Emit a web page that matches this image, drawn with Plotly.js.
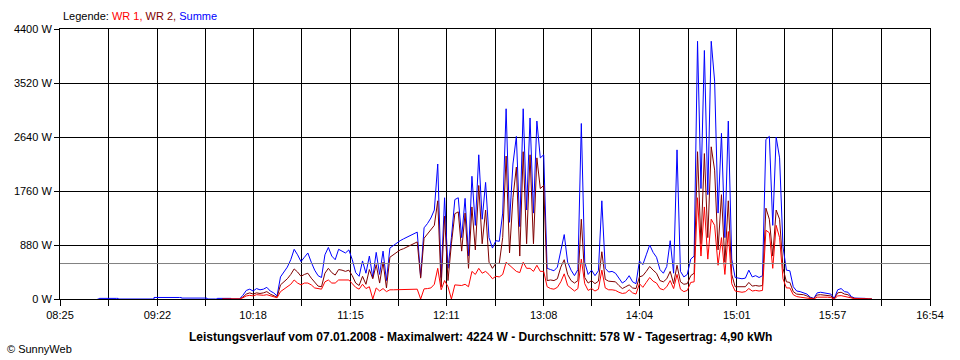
<!DOCTYPE html>
<html><head><meta charset="utf-8">
<script src="https://cdn.plot.ly/plotly-3.0.1.min.js"></script>
<style>html,body{margin:0;padding:0;background:#fff}#chart{width:960px;height:360px}</style>
</head><body><div id="chart"></div>
<script>
// ---- data ----
const tickLabels = ["08:25","09:22","10:18","11:15","12:11","13:08","14:04","15:01","15:57","16:54"];
const yTickValues = [0, 880, 1760, 2640, 3520, 4400];
const sampleStartMin = 600;   // 10:00
const sampleStepMin = 2;
const summe = [0,0,0,0,0,0,60,140,160,130,170,150,160,190,130,100,50,360,440,520,
640,810,720,610,680,750,600,470,380,350,720,840,700,640,810,780,750,800,640,430,
370,620,420,700,350,760,400,780,300,830,870,920,950,980,1010,1040,1060,1090,360,1160,
1230,1320,1450,2200,350,1650,500,1000,1620,1650,1000,1640,700,2000,1200,2350,1300,1900,1000,830,
950,940,1400,3100,1250,2200,2650,1180,3100,1450,2950,1400,2900,2300,2350,500,480,460,520,800,
1050,600,470,380,480,2860,600,400,470,380,460,1600,500,440,450,420,330,260,300,380,
280,250,620,560,720,880,760,680,480,420,530,950,420,2430,450,360,400,650,700,4200,
1800,4050,1700,4200,3550,1400,2700,1000,2900,650,350,340,330,340,470,360,380,350,380,2600,
2650,1200,2640,2300,850,470,460,200,130,120,100,80,30,10,100,110,100,95,80,10,
150,170,120,110,40,15,15,10,10,0,0];
const wr2 = [0,0,0,0,0,0,30,80,100,80,100,90,100,120,80,60,30,230,280,330,
400,490,440,370,400,420,340,270,210,200,420,500,430,390,480,470,450,470,380,260,
220,370,240,480,330,560,260,600,180,680,720,760,800,820,850,880,900,930,340,990,
1060,1140,1200,1600,200,1350,300,900,1390,1420,780,1400,500,1500,800,1850,900,1450,600,500,
580,580,1000,2330,750,1650,2150,700,2400,900,2350,900,2300,1800,1850,300,310,300,330,520,
640,400,300,260,300,1300,350,260,300,250,290,770,320,290,290,280,220,170,200,230,
180,170,360,380,450,530,470,420,300,280,330,450,250,550,280,240,250,380,420,2400,
900,2370,1000,2480,2100,800,1700,600,1600,400,200,200,190,200,270,210,220,210,220,1480,
1300,700,1450,1300,500,280,270,120,80,80,70,50,20,5,65,70,65,60,50,5,
100,110,80,70,25,10,10,5,5,0,0];
const wr1 = [0,0,0,0,0,0,20,50,60,50,70,60,60,70,50,40,20,120,160,190,
240,310,260,230,260,260,230,180,170,160,280,310,260,260,310,310,300,310,250,190,
160,240,170,200,0,180,130,170,120,150,150,150,150,155,155,160,160,160,0,165,
170,180,240,500,150,300,200,0,230,230,220,240,200,450,400,500,420,450,400,330,
370,360,400,600,550,500,450,430,600,500,500,450,550,450,450,200,170,160,190,280,
410,220,170,130,170,650,250,140,170,130,160,470,180,150,150,140,110,90,100,150,
100,80,250,190,270,350,290,260,170,150,200,300,170,400,160,120,140,270,280,1650,
700,1500,650,1300,1200,550,1000,400,1100,250,130,120,110,120,170,130,140,130,140,1120,
1080,500,1200,1000,330,180,180,70,40,30,20,20,10,0,30,35,30,30,25,0,
50,55,40,35,10,5,5,0,0,0,0];
const earlyMinutes = [527, 528, 538, 539, 559, 560, 575, 576, 590, 591, 596, 597, 604, 605];
const earlySumme   = [0, 10, 10, 0, 0, 25, 25, 15, 15, 0, 0, 10, 10, 0];
const averageW = 578;
const maxW = 4224;
const dailyYield = "4,90";
const dateText = "07.01.2008";

// ---- build ----
const toMin = s => { const p = s.split(":"); return (+p[0]) * 60 + (+p[1]); };
const labelMins = tickLabels.map(toMin);
const tickvals = [], ticktext = [];
labelMins.forEach((m, k) => {
  tickvals.push(m); ticktext.push(tickLabels[k]);
  if (k < labelMins.length - 1) { tickvals.push((m + labelMins[k + 1]) / 2); ticktext.push(""); }
});
const times = summe.map((_, i) => sampleStartMin + i * sampleStepMin);
const FONT = "Liberation Sans, Arial, sans-serif";
const line = (c) => ({color: c, width: 1, shape: "linear"});

const traces = [
  {x: earlyMinutes, y: earlySumme, type: "scatter", mode: "lines", line: {color: "#0000FF", width: 1, shape: "hv"}, hoverinfo: "skip", showlegend: false},
  {x: times, y: summe, type: "scatter", mode: "lines", name: "Summe", line: line("#0000FF"), showlegend: false},
  {x: times, y: wr2, type: "scatter", mode: "lines", name: "WR 2", line: line("#800000"), showlegend: false},
  {x: times, y: wr1, type: "scatter", mode: "lines", name: "WR 1", line: line("#FF0000"), showlegend: false}
];

const layout = {
  width: 960, height: 360, autosize: false,
  margin: {l: 60, r: 30, t: 29, b: 61, pad: 0},
  paper_bgcolor: "#ffffff", plot_bgcolor: "#ffffff",
  font: {family: FONT, size: 11, color: "#000"},
  showlegend: false,
  xaxis: {
    range: [labelMins[0], labelMins[labelMins.length - 1]], type: "linear",
    tickmode: "array", tickvals: tickvals, ticktext: ticktext,
    showgrid: true, gridcolor: "#000", gridwidth: 1, zeroline: false,
    ticks: "outside", ticklen: 6, tickcolor: "#000", tickwidth: 1,
    showline: true, linecolor: "#000", linewidth: 1, mirror: true,
    tickfont: {family: FONT, size: 11, color: "#000"}, fixedrange: true
  },
  yaxis: {
    range: [0, yTickValues[yTickValues.length - 1]],
    tickmode: "array", tickvals: yTickValues, ticktext: yTickValues.map(v => v + " W"),
    showgrid: true, gridcolor: "#000", gridwidth: 1, zeroline: false,
    ticks: "outside", ticklen: 5, tickcolor: "#000", tickwidth: 1,
    showline: true, linecolor: "#000", linewidth: 1, mirror: true,
    tickfont: {family: FONT, size: 11, color: "#000"}, fixedrange: true
  },
  shapes: [{type: "line", xref: "paper", x0: 0, x1: 1, yref: "y", y0: averageW, y1: averageW,
            line: {color: "#808080", width: 1}, layer: "above"}],
  annotations: [
    {xref: "paper", yref: "paper", x: 0.001, y: 1.048, xanchor: "left", yanchor: "middle", showarrow: false,
     font: {family: FONT, size: 11, color: "#000"},
     text: 'Legende: <span style="color:#FF0000">WR 1,</span> <span style="color:#800000">WR 2,</span> <span style="color:#0000FF">Summe</span>'},
    {xref: "paper", yref: "paper", x: 0.4828, y: -0.1407, xanchor: "center", yanchor: "middle", showarrow: false,
     font: {family: FONT, size: 12, color: "#000"},
     text: "<b>Leistungsverlauf vom " + dateText + " - Maximalwert: " + maxW + " W - Durchschnitt: " + averageW +
           " W - Tagesertrag: " + dailyYield + " kWh</b>"},
    {xref: "paper", yref: "paper", x: -0.063, y: -0.185, xanchor: "left", yanchor: "middle", showarrow: false,
     font: {family: FONT, size: 11, color: "#000"}, text: "© SunnyWeb"}
  ]
};
Plotly.newPlot("chart", traces, layout, {displayModeBar: false, staticPlot: true});
</script>
</body></html>
